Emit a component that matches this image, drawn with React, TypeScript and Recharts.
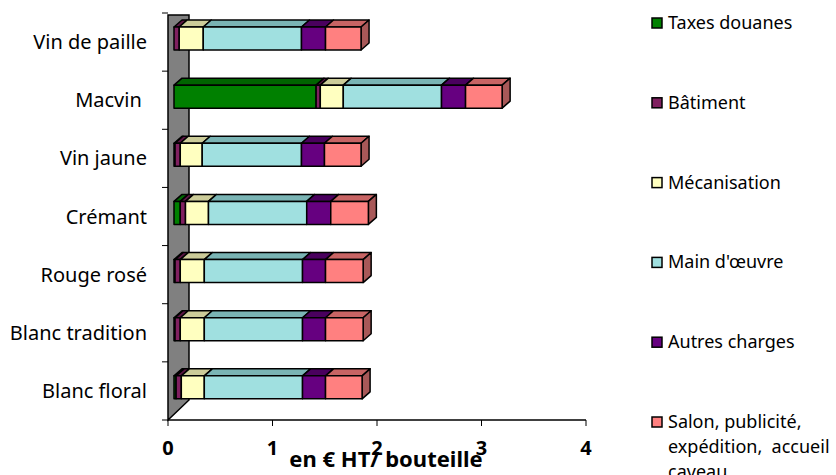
import React from "react";
import { BarChart, Bar, XAxis, YAxis, ReferenceArea } from "recharts";

const CATEGORIES = [
  "Vin de paille",
  "Macvin ",
  "Vin jaune",
  "Crémant",
  "Rouge rosé",
  "Blanc tradition",
  "Blanc floral",
];

// € HT par bouteille
const TAXES = [0, 1.36, 0.01, 0.06, 0.01, 0.01, 0.02];
const BATIMENT = [0.05, 0.04, 0.05, 0.05, 0.05, 0.05, 0.05];
const MECANISATION = [0.23, 0.22, 0.21, 0.22, 0.23, 0.23, 0.22];
const MAIN_OEUVRE = [0.94, 0.94, 0.95, 0.94, 0.94, 0.94, 0.94];
const AUTRES = [0.23, 0.23, 0.22, 0.23, 0.22, 0.22, 0.22];
const SALON = [0.34, 0.35, 0.35, 0.36, 0.36, 0.36, 0.35];

const X_TICKS = [0, 1, 2, 3, 4];

const SERIES = [
  { key: "taxes", label: ["Taxes douanes"], values: TAXES, front: "#008000", top: "#006400" },
  { key: "batiment", label: ["Bâtiment"], values: BATIMENT, front: "#802060", top: "#5c1545" },
  { key: "meca", label: ["Mécanisation"], values: MECANISATION, front: "#ffffc0", top: "#cccc99" },
  { key: "main", label: ["Main d'œuvre"], values: MAIN_OEUVRE, front: "#a0e0e0", top: "#7ab4b4" },
  { key: "autres", label: ["Autres charges"], values: AUTRES, front: "#660080", top: "#4a005e" },
  {
    key: "salon",
    label: ["Salon, publicité,", "expédition,  accueil", "caveau…"],
    values: SALON,
    front: "#ff8080",
    top: "#c86464",
    side: "#a85858",
  },
];

const rows = CATEGORIES.map((name, i) => {
  const r: Record<string, string | number> = { name };
  SERIES.forEach((s) => (r[s.key] = s.values[i]));
  return r;
});

const W = 836;
const H = 475;
const PLOT_TOP = 13;
const PLOT_BOTTOM = 420;
const PLOT_LEFT = 168;
const PLOT_RIGHT = 586;
const BAND = (PLOT_BOTTOM - PLOT_TOP) / CATEGORIES.length;

// fake 3D: front face pushed a bit into the depth, top/side faces behind it
const SHIFT_X = 6;
const SHIFT_Y = -4;
const DEPTH_X = 8;
const DEPTH_Y = 7;
const FONT = "'Noto Sans', 'DejaVu Sans', sans-serif";

function makeBlock(s: (typeof SERIES)[number], last: boolean) {
  return (props: any) => {
    const { x, y, width, height } = props;
    if (!width || width <= 0) return <g />;
    const fx = x + SHIFT_X;
    const fy = y + SHIFT_Y;
    const topPts = [
      [fx, fy],
      [fx + DEPTH_X, fy - DEPTH_Y],
      [fx + width + DEPTH_X, fy - DEPTH_Y],
      [fx + width, fy],
    ];
    const sidePts = [
      [fx + width, fy],
      [fx + width + DEPTH_X, fy - DEPTH_Y],
      [fx + width + DEPTH_X, fy + height - DEPTH_Y],
      [fx + width, fy + height],
    ];
    return (
      <g stroke="#000" strokeWidth={1.5} strokeLinejoin="round">
        <polygon points={topPts.map((p) => p.join(",")).join(" ")} fill={s.top} />
        {last && <polygon points={sidePts.map((p) => p.join(",")).join(" ")} fill={s.side} />}
        <rect x={fx} y={fy} width={width} height={height} fill={s.front} />
      </g>
    );
  };
}

function Wall(props: any) {
  const { x, y, height } = props;
  const d = 21;
  const pts = [
    [x, y + height],
    [x, y + 2],
    [x + d, y + 2],
    [x + d, y + height - 20],
  ];
  return (
    <polygon
      points={pts.map((p) => p.join(",")).join(" ")}
      fill="#808080"
      stroke="#000"
      strokeWidth={1.5}
    />
  );
}

function CategoryTick(props: any) {
  const { y, payload, index } = props;
  return (
    <g>
      <text
        x={PLOT_LEFT - 21}
        y={y + 7}
        textAnchor="end"
        fontSize={20}
        fontFamily={FONT}
        fill="#000"
        style={{ whiteSpace: "pre" }}
      >
        {payload.value}
      </text>
      {index === 0 && (
        <line x1={PLOT_LEFT - 6} x2={PLOT_LEFT} y1={y - BAND / 2} y2={y - BAND / 2} stroke="#000" />
      )}
      <line x1={PLOT_LEFT - 6} x2={PLOT_LEFT} y1={y + BAND / 2} y2={y + BAND / 2} stroke="#000" />
    </g>
  );
}

function AxisTitle(props: any) {
  const { viewBox } = props;
  const cx = viewBox.x + viewBox.width / 2 + 9;
  return (
    <text x={cx} y={viewBox.y + 47} textAnchor="middle" fontSize={22} fontWeight="bold" fontFamily={FONT} fill="#000">
      en € HT/ bouteille
    </text>
  );
}

function SideLegend() {
  const x0 = 652;
  return (
    <svg width={W} height={H} style={{ position: "absolute", left: 0, top: 0, pointerEvents: "none" }}>
      {SERIES.map((s, i) => {
        const base = 29 + i * 79.8;
        return (
          <g key={s.key}>
            <rect x={x0} y={base - 11} width={10} height={10} fill={s.front} stroke="#000" strokeWidth={1.5} />
            {s.label.map((line, j) => (
              <text
                key={j}
                x={x0 + 16}
                y={base + j * 25}
                fontSize={18}
                fontFamily={FONT}
                fill="#000"
                style={{ whiteSpace: "pre" }}
              >
                {line}
              </text>
            ))}
          </g>
        );
      })}
    </svg>
  );
}

export default function App() {
  return (
    <div
      style={{
        position: "absolute",
        left: 0,
        top: 0,
        width: W,
        height: H,
        overflow: "hidden",
        background: "#fff",
        fontFamily: FONT,
      }}
    >
      <BarChart
        layout="vertical"
        width={W}
        height={H}
        data={rows}
        barSize={23}
        margin={{ top: PLOT_TOP, right: W - PLOT_RIGHT, bottom: 0, left: 0 }}
      >
        <XAxis
          type="number"
          domain={[0, 4]}
          ticks={X_TICKS}
          height={H - PLOT_BOTTOM}
          axisLine={{ stroke: "#000", strokeWidth: 1.5 }}
          tickLine={{ stroke: "#000" }}
          tickSize={6}
          tickMargin={15}
          tick={{ fontSize: 20, fontWeight: "bold", fill: "#000", fontFamily: FONT }}
          label={<AxisTitle />}
        />
        <YAxis
          type="category"
          dataKey="name"
          width={PLOT_LEFT}
          axisLine={false}
          tickLine={false}
          tick={<CategoryTick />}
          interval={0}
        />
        <ReferenceArea x1={0} x2={4} shape={<Wall />} ifOverflow="visible" />
        {SERIES.map((s, i) => (
          <Bar
            key={s.key}
            dataKey={s.key}
            stackId="cout"
            isAnimationActive={false}
            shape={makeBlock(s, i === SERIES.length - 1)}
          />
        ))}
      </BarChart>
      <SideLegend />
    </div>
  );
}
